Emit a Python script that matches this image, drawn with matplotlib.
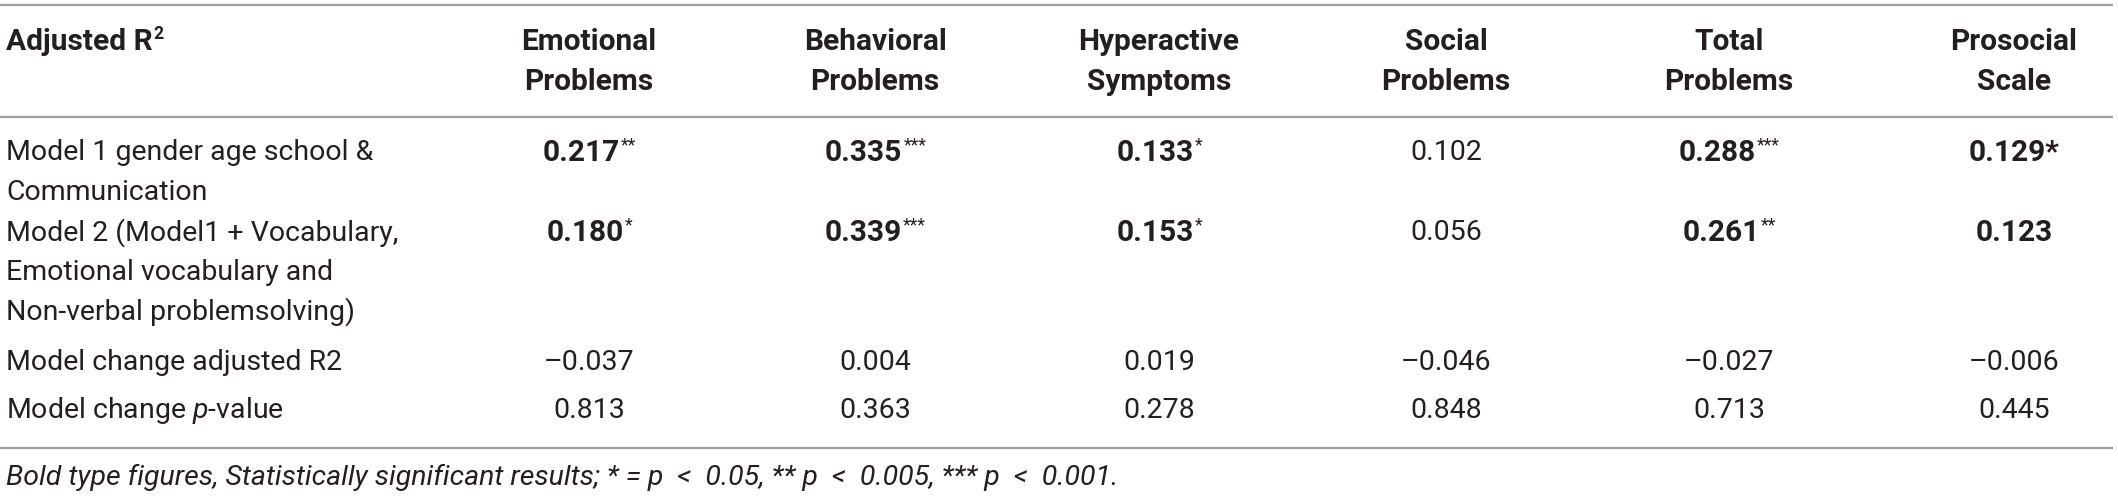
import matplotlib
matplotlib.use('Agg')
import matplotlib.pyplot as plt

# 表格資料
header_left = 'Adjusted R'
header_left_sup = '2'
columns = [['Emotional', 'Problems'], ['Behavioral', 'Problems'],
           ['Hyperactive', 'Symptoms'], ['Social', 'Problems'],
           ['Total', 'Problems'], ['Prosocial', 'Scale']]
row_labels = [['Model 1 gender age school &', 'Communication'],
              ['Model 2 (Model1 + Vocabulary,', 'Emotional vocabulary and',
               'Non-verbal problemsolving)'],
              ['Model change adjusted R2'],
              ['Model change $p$-value']]
model1 = ['0.217', '0.335', '0.133', '0.102', '0.288', '0.129*']
model1_sig = ['**', '***', '*', '', '***', '']
model1_bold = [True, True, True, False, True, True]
model2 = ['0.180', '0.339', '0.153', '0.056', '0.261', '0.123']
model2_sig = ['*', '***', '*', '', '**', '']
model2_bold = [True, True, True, False, True, True]
change_r2 = ['\u20130.037', '0.004', '0.019', '\u20130.046', '\u20130.027', '\u20130.006']
change_p = ['0.813', '0.363', '0.278', '0.848', '0.713', '0.445']
footnote = ('Bold type figures, Statistically significant results; * = p  <  0.05, '
            '** p  <  0.005, *** p  <  0.001.')

# 字型設定
plt.rcParams['font.family'] = ['Roboto', 'DejaVu Sans']
plt.rcParams['mathtext.fontset'] = 'custom'
plt.rcParams['mathtext.rm'] = 'Roboto'
plt.rcParams['mathtext.it'] = 'Roboto:italic'
plt.rcParams['mathtext.bf'] = 'Roboto:bold'

W, H = 2118, 496
fig = plt.figure(figsize=(W / 100, H / 100), dpi=100)
ax = fig.add_axes([0, 0, 1, 1])
ax.set_xlim(0, W)
ax.set_ylim(H, 0)
ax.axis('off')
renderer = fig.canvas.get_renderer()

txt = '#231f20'
line_c = '#a0a0a0'
fs = 20.5
fs_b = 21.5
lh = 39.5
body_w = 'normal'
col_x = [589, 875, 1159, 1446, 1729, 2014]
left_x = 6

# 橫線
ax.hlines([5, 117, 448], 0, 2113, color=line_c, lw=1.6)


def with_sup(x, y, main, sup, weight, sup_weight, center):
    t1 = ax.text(x, y, main, fontsize=fs_b if weight == 'bold' else fs,
                 fontweight=weight, color=txt, ha='left', va='center')
    t2 = ax.text(x, y - 8, sup, fontsize=fs * 0.62, fontweight=sup_weight,
                 color=txt, ha='left', va='center')
    w1 = t1.get_window_extent(renderer).width
    w2 = t2.get_window_extent(renderer).width if sup else 0
    x0 = x - (w1 + w2) / 2 if center else x
    t1.set_x(x0)
    t2.set_x(x0 + w1 + 1)


# 表頭
with_sup(left_x, 42, header_left, header_left_sup, 'bold', 'bold', False)
for cx, lines in zip(col_x, columns):
    for i, s in enumerate(lines):
        ax.text(cx, 42 + i * lh, s, fontsize=fs_b, fontweight='bold', color=txt,
                ha='center', va='center')

# 列標籤
row_y = [153, 233, 363, 410]
for y0, lines in zip(row_y, row_labels):
    for i, s in enumerate(lines):
        ax.text(left_x, y0 + i * lh, s, fontsize=fs, fontweight=body_w, color=txt, va='center')


def cell(cx, y, val, sig, bold):
    if bold:
        with_sup(cx, y, val, sig, 'bold', 'normal', True)
    else:
        ax.text(cx, y, val, fontsize=fs, fontweight=body_w, color=txt, ha='center', va='center')


for j, cx in enumerate(col_x):
    cell(cx, row_y[0], model1[j], model1_sig[j], model1_bold[j])
    cell(cx, row_y[1], model2[j], model2_sig[j], model2_bold[j])
    cell(cx, row_y[2], change_r2[j], '', False)
    cell(cx, row_y[3], change_p[j], '', False)

ax.text(left_x, 477, footnote, fontsize=20.5, style='italic', fontweight=body_w,
        color=txt, va='center')

fig.savefig('out.png', dpi=100)
